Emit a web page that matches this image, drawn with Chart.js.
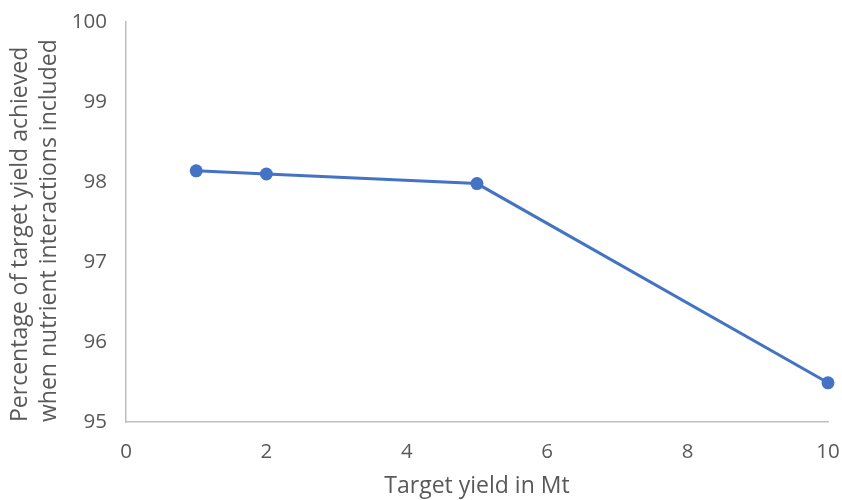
<!DOCTYPE html>
<html>
<head>
<meta charset="utf-8">
<script src="https://cdn.jsdelivr.net/npm/chart.js@4"></script>
<style>
  html, body { margin: 0; padding: 0; background: #fff; }
  #wrap { width: 842px; height: 500px; position: relative; }
</style>
</head>
<body>
<div id="wrap"><canvas id="c" width="842" height="500"></canvas></div>
<script>
// Target yield (Mt) and share of target reached with nutrient interactions
const targetYield = [1, 2, 5, 10];
const pctAchieved = [98.14, 98.10, 97.98, 95.49];
const xTicks = [0, 2, 4, 6, 8, 10];
const yTicks = [95, 96, 97, 98, 99, 100];
const xTitle = 'Target yield in Mt';
const yTitle = ['Percentage of target yield achieved', 'when nutrient interactions included'];

const textColor = '#595959';
const axisColor = '#bfbfbf';
const fontFamily = '"Open Sans", Lato, sans-serif';

// fixed box sizes; drop the edge padding the scales reserve for their labels
function fixBox(size) {
  return s => {
    if (s.isHorizontal()) s.height = size; else s.width = size;
    s.paddingLeft = s.paddingRight = s.paddingTop = s.paddingBottom = 0;
  };
}

new Chart(document.getElementById('c'), {
  type: 'line',
  data: {
    datasets: [{
      data: targetYield.map((x, i) => ({ x: x, y: pctAchieved[i] })),
      borderColor: '#4472C4',
      backgroundColor: '#4472C4',
      borderWidth: 3,
      pointRadius: 6.5,
      pointHoverRadius: 6.5,
      pointBorderWidth: 0,
      tension: 0,
      fill: false,
      clip: false
    }]
  },
  options: {
    responsive: false,
    animation: false,
    devicePixelRatio: 1,
    layout: { padding: { top: 22, right: 14, left: 0, bottom: 0 } },
    plugins: { legend: { display: false }, tooltip: { enabled: false } },
    scales: {
      x: {
        type: 'linear',
        min: xTicks[0],
        max: xTicks[xTicks.length - 1],
        afterBuildTicks: s => { s.ticks = xTicks.map(v => ({ value: v })); },
        afterFit: fixBox(78),
        grid: { display: false, drawTicks: false },
        border: { display: true, color: axisColor, width: 1.5 },
        ticks: { color: textColor, padding: 18, maxRotation: 0, font: { family: fontFamily, size: 20.5 } },
        title: {
          display: true, text: xTitle, color: textColor,
          font: { family: fontFamily, size: 23, lineHeight: 1.15 },
          padding: { top: 0, bottom: 0 }
        }
      },
      y: {
        type: 'linear',
        min: yTicks[0],
        max: yTicks[yTicks.length - 1],
        afterBuildTicks: s => { s.ticks = yTicks.map(v => ({ value: v })); },
        afterFit: fixBox(126),
        grid: { display: false, drawTicks: false },
        border: { display: true, color: axisColor, width: 1.5 },
        ticks: { color: textColor, padding: 19, font: { family: fontFamily, size: 20.5 } },
        title: {
          display: true, text: yTitle, color: textColor, align: 'start',
          font: { family: fontFamily, size: 23, lineHeight: 1.26 },
          padding: { top: 5.5, bottom: 0 }
        }
      }
    }
  }
});
</script>
</body>
</html>
